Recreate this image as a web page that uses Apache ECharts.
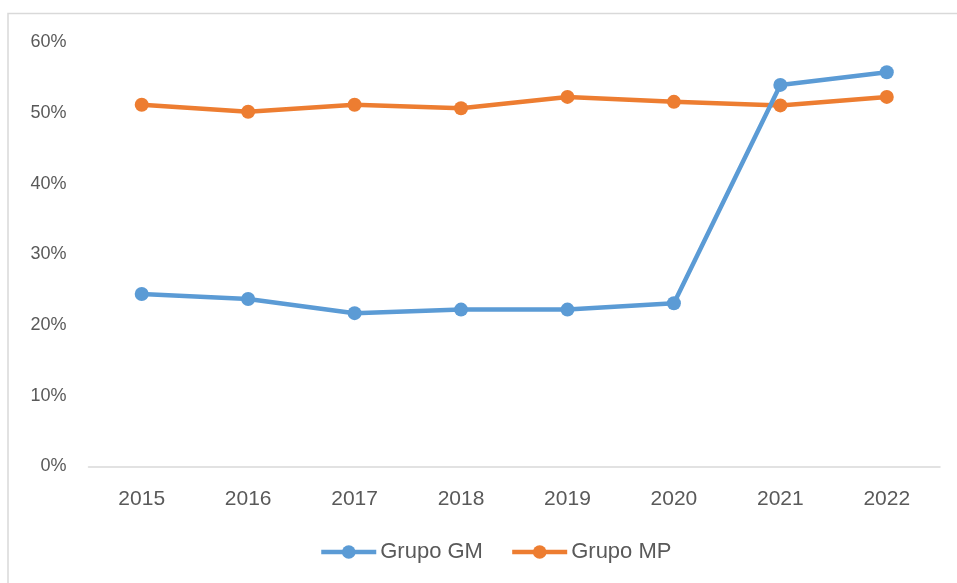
<!DOCTYPE html>
<html>
<head>
<meta charset="utf-8">
<script src="https://cdn.jsdelivr.net/npm/echarts@6/dist/echarts.min.js"></script>
<style>
html,body{margin:0;padding:0;background:#fff;}
#chart{width:957px;height:583px;}
</style>
</head>
<body>
<div id="chart"></div>
<script>
const years = ['2015','2016','2017','2018','2019','2020','2021','2022'];
const grupoGM = [0.244, 0.237, 0.217, 0.222, 0.222, 0.231, 0.540, 0.558];
const grupoMP = [0.512, 0.502, 0.512, 0.507, 0.523, 0.516, 0.511, 0.523];
const seriesNames = ['Grupo GM', 'Grupo MP'];

const font = '"Liberation Sans", Arial, sans-serif';
const chart = echarts.init(document.getElementById('chart'));
chart.setOption({
  animation: false,
  backgroundColor: '#ffffff',
  graphic: [{
    type: 'rect',
    shape: { x: 8, y: 13.5, width: 1000, height: 700 },
    style: { fill: 'none', stroke: '#d9d9d9', lineWidth: 1.5 },
    silent: true,
    z: -10
  }],
  grid: { left: 88.5, right: 17, top: 42.5, bottom: 116.5, containLabel: false, outerBoundsMode: 'none' },
  legend: {
    left: 314,
    top: 536,
    padding: 5,
    itemWidth: 55,
    itemHeight: 17,
    itemGap: 27,
    lineStyle: { width: 4.5 },
    textStyle: { fontFamily: font, fontSize: 22, color: '#595959', padding: [0, 0, 0, -1] },
    data: seriesNames
  },
  xAxis: {
    type: 'category',
    data: years,
    boundaryGap: true,
    axisLine: { show: true, lineStyle: { color: '#d9d9d9', width: 1.5 } },
    axisTick: { show: false },
    axisLabel: { fontFamily: font, fontSize: 21, color: '#595959', margin: 22 },
    splitLine: { show: false }
  },
  yAxis: {
    type: 'value',
    min: 0,
    max: 0.6,
    interval: 0.1,
    axisLine: { show: false },
    axisTick: { show: false },
    splitLine: { show: false },
    axisLabel: {
      fontFamily: font, fontSize: 18, color: '#595959', margin: 22,
      formatter: v => Math.round(v * 100) + '%'
    }
  },
  series: [
    {
      name: seriesNames[0],
      type: 'line',
      data: grupoGM,
      symbol: 'circle',
      symbolSize: 14,
      itemStyle: { color: '#5B9BD5' },
      lineStyle: { color: '#5B9BD5', width: 4.5 },
      z: 3
    },
    {
      name: seriesNames[1],
      type: 'line',
      data: grupoMP,
      symbol: 'circle',
      symbolSize: 14,
      itemStyle: { color: '#ED7D31' },
      lineStyle: { color: '#ED7D31', width: 4.5 },
      z: 2
    }
  ]
});
</script>
</body>
</html>
